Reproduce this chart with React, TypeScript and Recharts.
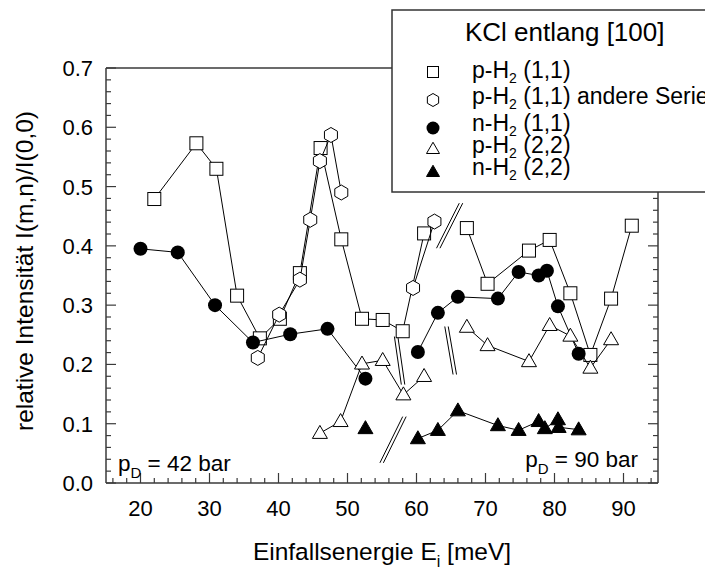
import React from 'react';
import { ScatterChart, Scatter, XAxis, YAxis, ReferenceLine } from 'recharts';

type Pt = { x: number; y: number };

const FONT = '"Liberation Sans", Arial, sans-serif';
const AXIS = '#3a3a3a';

// axis ticks
const xMajor = [20, 30, 40, 50, 60, 70, 80, 90];
const xTicks = [16, 18, 20, 22, 24, 26, 28, 30, 32, 34, 36, 38, 40, 42, 44, 46, 48, 50, 52, 54, 56, 58, 60, 62, 64, 66, 68, 70, 72, 74, 76, 78, 80, 82, 84, 86, 88, 90, 92, 94];
const yMajor = [0, 0.1, 0.2, 0.3, 0.4, 0.5, 0.6, 0.7];
const yTicks: number[] = [];
yMajor.forEach((v, i) => {
  if (i === yMajor.length - 1) { yTicks.push(v); return; }
  for (let k = 0; k < 5; k++) yTicks.push(Math.round((v + k * 0.02) * 100) / 100);
});

// p-H2 (1,1), open squares
const pH2_11_42: Pt[] = [
  { x: 22.0, y: 0.479 }, { x: 28.1, y: 0.573 }, { x: 31.0, y: 0.530 }, { x: 34.0, y: 0.316 },
  { x: 37.3, y: 0.244 }, { x: 40.2, y: 0.277 }, { x: 43.1, y: 0.354 }, { x: 46.1, y: 0.565 },
  { x: 49.1, y: 0.411 }, { x: 52.1, y: 0.277 }, { x: 55.1, y: 0.275 }, { x: 58.0, y: 0.256 },
  { x: 61.1, y: 0.421 },
];
const pH2_11_90: Pt[] = [
  { x: 67.3, y: 0.430 }, { x: 70.3, y: 0.336 }, { x: 76.3, y: 0.392 }, { x: 79.3, y: 0.410 },
  { x: 82.3, y: 0.320 }, { x: 85.2, y: 0.216 }, { x: 88.2, y: 0.311 }, { x: 91.2, y: 0.434 },
];

// p-H2 (1,1) andere Serie, hexagons
const pH2_11b_a: Pt[] = [
  { x: 37.0, y: 0.211 }, { x: 40.1, y: 0.284 }, { x: 43.1, y: 0.343 }, { x: 44.6, y: 0.444 },
  { x: 46.0, y: 0.543 }, { x: 47.6, y: 0.587 }, { x: 49.1, y: 0.490 },
];
const pH2_11b_b: Pt[] = [{ x: 59.5, y: 0.329 }, { x: 62.6, y: 0.441 }];

// n-H2 (1,1), filled circles
const nH2_11_42: Pt[] = [
  { x: 20.0, y: 0.395 }, { x: 25.4, y: 0.389 }, { x: 30.8, y: 0.300 }, { x: 36.3, y: 0.237 },
  { x: 41.7, y: 0.251 }, { x: 47.1, y: 0.260 }, { x: 52.6, y: 0.176 },
];
const nH2_11_90: Pt[] = [
  { x: 60.2, y: 0.221 }, { x: 63.1, y: 0.287 }, { x: 66.0, y: 0.314 }, { x: 71.8, y: 0.311 },
  { x: 74.8, y: 0.356 }, { x: 77.7, y: 0.350 }, { x: 78.9, y: 0.358 }, { x: 80.5, y: 0.298 },
  { x: 83.5, y: 0.218 },
];

// p-H2 (2,2), open triangles
const pH2_22_42: Pt[] = [
  { x: 46.0, y: 0.084 }, { x: 49.0, y: 0.104 }, { x: 52.1, y: 0.201 }, { x: 55.1, y: 0.207 },
  { x: 58.1, y: 0.149 }, { x: 61.1, y: 0.180 },
];
const pH2_22_90: Pt[] = [
  { x: 67.3, y: 0.263 }, { x: 70.3, y: 0.232 }, { x: 76.3, y: 0.205 }, { x: 79.3, y: 0.266 },
  { x: 82.3, y: 0.248 }, { x: 85.2, y: 0.194 }, { x: 88.2, y: 0.242 },
];

// n-H2 (2,2), filled triangles
const nH2_22_42: Pt[] = [{ x: 52.6, y: 0.092 }];
const nH2_22_90: Pt[] = [
  { x: 60.2, y: 0.075 }, { x: 63.1, y: 0.089 }, { x: 66.0, y: 0.122 }, { x: 71.8, y: 0.097 },
  { x: 74.8, y: 0.089 }, { x: 77.7, y: 0.104 }, { x: 78.6, y: 0.092 }, { x: 80.5, y: 0.107 },
  { x: 80.6, y: 0.094 }, { x: 83.5, y: 0.090 },
];

// "//" break marks (each pair of parallel strokes)
const breakMarks = [
  [{ x: 56.8, y: 0.247 }, { x: 57.8, y: 0.166 }],
  [{ x: 57.3, y: 0.247 }, { x: 58.3, y: 0.166 }],
  [{ x: 54.7, y: 0.034 }, { x: 58.0, y: 0.112 }],
  [{ x: 55.2, y: 0.034 }, { x: 58.5, y: 0.112 }],
  [{ x: 62.9, y: 0.396 }, { x: 66.2, y: 0.472 }],
  [{ x: 63.4, y: 0.396 }, { x: 66.7, y: 0.472 }],
  [{ x: 64.1, y: 0.264 }, { x: 65.3, y: 0.183 }],
  [{ x: 64.6, y: 0.264 }, { x: 65.8, y: 0.183 }],
];

const isMajorY = (v: number) => Math.abs(v * 10 - Math.round(v * 10)) < 1e-6;

const BottomTick = (props: any) => {
  const { x, y, payload } = props;
  const major = xMajor.includes(payload.value);
  return (
    <g>
      <line x1={x} x2={x} y1={y} y2={y - (major ? 10 : 5)} stroke={AXIS} strokeWidth={1.2} />
      {major && (
        <text x={x} y={y + 33} textAnchor="middle" fontSize={22} fill="#000" fontFamily={FONT}>
          {payload.value}
        </text>
      )}
    </g>
  );
};

const TopTick = (props: any) => {
  const { x, y, payload } = props;
  const major = xMajor.includes(payload.value);
  return <line x1={x} x2={x} y1={y} y2={y + (major ? 10 : 5)} stroke={AXIS} strokeWidth={1.2} />;
};

const LeftTick = (props: any) => {
  const { x, y, payload } = props;
  const major = isMajorY(payload.value);
  return (
    <g>
      <line x1={x} x2={x + (major ? 10 : 5)} y1={y} y2={y} stroke={AXIS} strokeWidth={1.2} />
      {major && (
        <text x={x - 13} y={y + 8} textAnchor="end" fontSize={22} fill="#000" fontFamily={FONT}>
          {payload.value.toFixed(1)}
        </text>
      )}
    </g>
  );
};

const RightTick = (props: any) => {
  const { x, y, payload } = props;
  const major = isMajorY(payload.value);
  return <line x1={x} x2={x - (major ? 10 : 5)} y1={y} y2={y} stroke={AXIS} strokeWidth={1.2} />;
};

const Square = ({ cx, cy, s = 13 }: any) => (
  <rect x={cx - s / 2} y={cy - s / 2} width={s} height={s} fill="#fff" stroke="#000" strokeWidth={1} />
);
const Hexagon = ({ cx, cy, r = 7.5 }: any) => {
  const pts = [-90, -30, 30, 90, 150, 210]
    .map((a) => `${cx + r * Math.cos((a * Math.PI) / 180)},${cy + r * Math.sin((a * Math.PI) / 180)}`)
    .join(' ');
  return <polygon points={pts} fill="#fff" stroke="#000" strokeWidth={1} />;
};
const Dot = ({ cx, cy, r = 7 }: any) => <circle cx={cx} cy={cy} r={r} fill="#000" />;
const Tri = ({ cx, cy, s = 15, filled = false }: any) => {
  const h = s * 0.866;
  const pts = `${cx},${cy - h * 0.6} ${cx + s / 2},${cy + h * 0.4} ${cx - s / 2},${cy + h * 0.4}`;
  return <polygon points={pts} fill={filled ? '#000' : '#fff'} stroke="#000" strokeWidth={1} />;
};

const lineStyle = { stroke: '#000', strokeWidth: 1 };

const legendRows = [
  { label: 'p-H', rest: ' (1,1)', sym: 'square', cy: 72, base: 78 },
  { label: 'p-H', rest: ' (1,1) andere Serie', sym: 'hex', cy: 100, base: 104 },
  { label: 'n-H', rest: ' (1,1)', sym: 'dot', cy: 128, base: 131 },
  { label: 'p-H', rest: ' (2,2)', sym: 'tri', cy: 149, base: 153 },
  { label: 'n-H', rest: ' (2,2)', sym: 'ftri', cy: 172, base: 175 },
];

const legendSymbol = (sym: string, cx: number, cy: number) => {
  if (sym === 'square') return <Square cx={cx} cy={cy} s={11} />;
  if (sym === 'hex') return <Hexagon cx={cx} cy={cy} r={6.5} />;
  if (sym === 'dot') return <Dot cx={cx} cy={cy} r={6.5} />;
  if (sym === 'tri') return <Tri cx={cx} cy={cy} s={13} />;
  return <Tri cx={cx} cy={cy} s={13} filled />;
};

export default function App() {
  return (
    <div style={{ position: 'absolute', left: 0, top: 0, width: 705, height: 571, overflow: 'hidden', background: '#fff' }}>
      <ScatterChart width={705} height={571} margin={{ top: 67, right: 46, bottom: 28, left: 46 }}>
        <XAxis
          type="number" dataKey="x" domain={[15, 95]} ticks={xTicks} interval={0} height={60}
          tickSize={0} tickMargin={0} tickLine={false} tick={<BottomTick />}
          axisLine={{ stroke: AXIS, strokeWidth: 1.5 }} allowDataOverflow
        />
        <XAxis
          xAxisId="top" orientation="top" type="number" domain={[15, 95]} ticks={xTicks} interval={0} height={1}
          tickSize={0} tickMargin={0} tickLine={false} tick={<TopTick />}
          axisLine={{ stroke: AXIS, strokeWidth: 1.5 }} allowDataOverflow
        />
        <YAxis
          type="number" dataKey="y" domain={[0, 0.7]} ticks={yTicks} interval={0} width={60}
          tickSize={0} tickMargin={0} tickLine={false} tick={<LeftTick />}
          axisLine={{ stroke: AXIS, strokeWidth: 1.5 }} allowDataOverflow
        />
        <YAxis
          yAxisId="right" orientation="right" type="number" domain={[0, 0.7]} ticks={yTicks} interval={0} width={1}
          tickSize={0} tickMargin={0} tickLine={false} tick={<RightTick />}
          axisLine={{ stroke: AXIS, strokeWidth: 1.5 }} allowDataOverflow
        />

        {breakMarks.map((seg, i) => (
          <ReferenceLine key={`brk-${i}`} segment={seg} stroke="#000" strokeWidth={1} ifOverflow="visible" />
        ))}

        <Scatter data={pH2_11_42} line={lineStyle} shape={(p: any) => <Square {...p} />} isAnimationActive={false} />
        <Scatter data={pH2_11_90} line={lineStyle} shape={(p: any) => <Square {...p} />} isAnimationActive={false} />
        <Scatter data={pH2_11b_a} line={lineStyle} shape={(p: any) => <Hexagon {...p} />} isAnimationActive={false} />
        <Scatter data={pH2_11b_b} line={lineStyle} shape={(p: any) => <Hexagon {...p} />} isAnimationActive={false} />
        <Scatter data={nH2_11_42} line={lineStyle} shape={(p: any) => <Dot {...p} />} isAnimationActive={false} />
        <Scatter data={nH2_11_90} line={lineStyle} shape={(p: any) => <Dot {...p} />} isAnimationActive={false} />
        <Scatter data={pH2_22_42} line={lineStyle} shape={(p: any) => <Tri {...p} />} isAnimationActive={false} />
        <Scatter data={pH2_22_90} line={lineStyle} shape={(p: any) => <Tri {...p} />} isAnimationActive={false} />
        <Scatter data={nH2_22_42} line={lineStyle} shape={(p: any) => <Tri {...p} filled />} isAnimationActive={false} />
        <Scatter data={nH2_22_90} line={lineStyle} shape={(p: any) => <Tri {...p} filled />} isAnimationActive={false} />
      </ScatterChart>

      <svg width={705} height={571} style={{ position: 'absolute', left: 0, top: 0, pointerEvents: 'none' }} fontFamily={FONT}>
        <text transform="rotate(-90)" x={-271} y={33} textAnchor="middle" fontSize={24.5} fill="#000">
          relative Intensität I(m,n)/I(0,0)
        </text>
        <text x={382} y={560} textAnchor="middle" fontSize={24.5} fill="#000">
          Einfallsenergie E<tspan fontSize={16} dy={7}>i</tspan><tspan dy={-7}> [meV]</tspan>
        </text>

        <text x={118} y={471} fontSize={22.5} fill="#000">
          p<tspan fontSize={15} dy={7}>D</tspan><tspan dy={-7}> = 42 bar</tspan>
        </text>
        <text x={638} y={467} fontSize={22.5} fill="#000" textAnchor="end">
          p<tspan fontSize={15} dy={7}>D</tspan><tspan dy={-7}> = 90 bar</tspan>
        </text>

        <rect x={392} y={10} width={340} height={182} fill="#fff" stroke="#333" strokeWidth={1.5} />
        <text x={465} y={41} fontSize={26} fill="#000">KCl entlang [100]</text>
        {legendRows.map((r, i) => (
          <g key={i}>
            {legendSymbol(r.sym, 433, r.cy)}
            <text x={472} y={r.base} fontSize={23} fill="#000">
              {r.label}<tspan fontSize={14} dy={5}>2</tspan><tspan dy={-5}>{r.rest}</tspan>
            </text>
          </g>
        ))}
      </svg>
    </div>
  );
}
